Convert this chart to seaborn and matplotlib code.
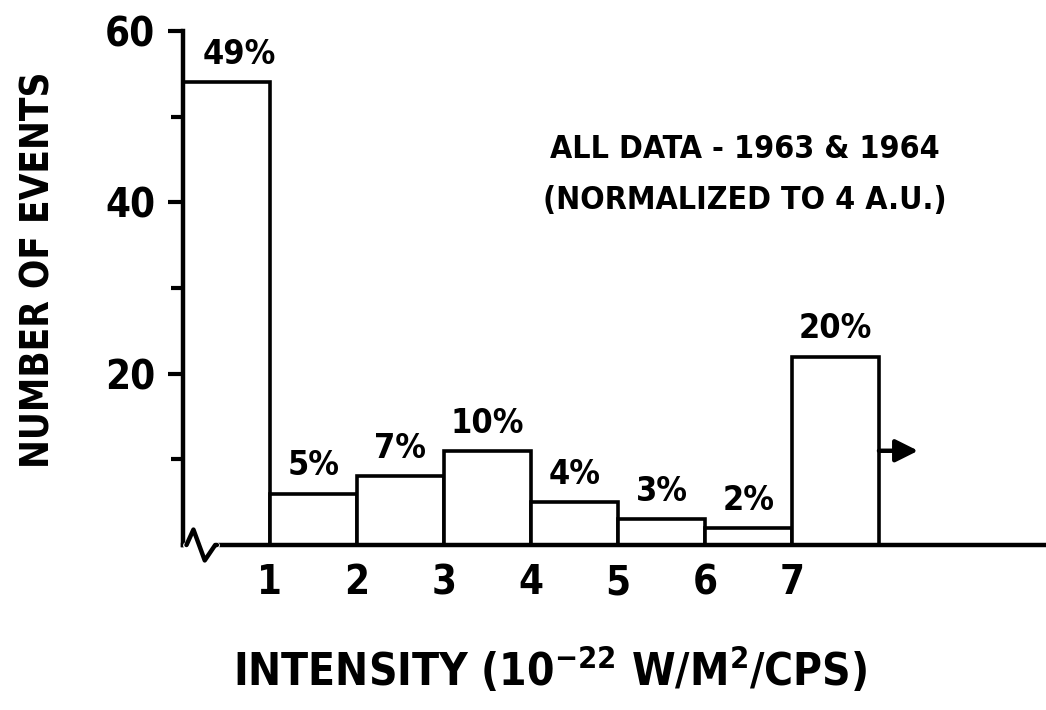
import numpy as np
import matplotlib
matplotlib.use("Agg")
import matplotlib.pyplot as plt
import seaborn as sns
from matplotlib import font_manager

# histogram of event intensities (counts)
bin_edges = [0, 1, 2, 3, 4, 5, 6, 7, 8]
counts = [54, 6, 8, 11, 5, 3, 2, 22]
percents = ["49%", "5%", "7%", "10%", "4%", "3%", "2%", "20%"]
x_ticks = [1, 2, 3, 4, 5, 6, 7]
y_major = [20, 40, 60]
y_minor = [10, 30, 50]

sns.set_style("white")
names = {f.name for f in font_manager.fontManager.ttflist}
if "Liberation Sans Narrow" in names:
    fam, k = ["Liberation Sans Narrow", "DejaVu Sans"], 1.0
elif "DejaVu Sans Condensed" in names:
    fam, k = ["DejaVu Sans Condensed", "DejaVu Sans"], 0.8
else:
    fam, k = ["DejaVu Sans"], 0.72
plt.rcParams["font.family"] = fam
plt.rcParams["font.weight"] = "bold"
plt.rcParams["font.stretch"] = "condensed"
plt.rcParams["mathtext.default"] = "regular"
for key in ["text.color", "axes.labelcolor", "xtick.color", "ytick.color"]:
    plt.rcParams[key] = "black"

fig = plt.figure(figsize=(10.46, 7.10), dpi=100)
ax = fig.add_axes([183 / 1046, 165 / 710, 1 - 183 / 1046, 514 / 710])

edges = np.array(bin_edges)
centers = (edges[:-1] + edges[1:]) / 2
sns.histplot(x=centers, weights=counts, bins=bin_edges, color="white",
             edgecolor="black", linewidth=2.6, alpha=1, ax=ax)

ax.set_xlim(0, 9.92)
ax.set_ylim(0, 60)
ax.set_xticks(x_ticks)
ax.set_xticklabels([str(t) for t in x_ticks])
ax.set_yticks(y_major)
ax.set_yticks(y_minor, minor=True)
ax.set_xlabel("")
ax.set_ylabel("")

for s in ["top", "right"]:
    ax.spines[s].set_visible(False)
for s in ["left", "bottom"]:
    ax.spines[s].set_linewidth(3.2)
    ax.spines[s].set_color("black")

ax.tick_params(axis="y", which="major", left=True, length=11, width=3, pad=9,
               labelsize=40 * k, color="black", labelcolor="black")
ax.tick_params(axis="y", which="minor", left=True, length=9, width=3, color="black")
ax.tick_params(axis="x", length=0, pad=13, labelsize=40 * k, labelcolor="black")

# percentage labels above bars
for i, (c, n, p) in enumerate(zip(centers, counts, percents)):
    dx = 0.15 if i == 0 else 0
    ax.text(c + dx, n + 1.3, p, ha="center", va="bottom",
            fontsize=34 * k, fontweight="bold")

# overflow arrow on last bin
ax.annotate("", xy=(edges[-1] + 0.45, counts[-1] / 2), xytext=(edges[-1], counts[-1] / 2),
            arrowprops=dict(arrowstyle="-|>", lw=3.2, color="black",
                            mutation_scale=34, shrinkA=0, shrinkB=0))

# axis break mark
ax.plot([0.04, 0.38], [0, 0], color="white", lw=5, clip_on=False, zorder=5)
ax.plot([0.04, 0.12, 0.25, 0.37, 0.39], [0, 1.8, -1.8, 0, 0], color="black",
        lw=3.2, clip_on=False, zorder=6)

fig.text(745 / 1046, 1 - 150 / 710, "ALL DATA - 1963 & 1964", ha="center", va="center",
         fontsize=32 * k, fontweight="bold")
fig.text(745 / 1046, 1 - 200 / 710, "(NORMALIZED TO 4 A.U.)", ha="center", va="center",
         fontsize=32 * k, fontweight="bold")

fig.text(38 / 1046, 1 - 270 / 710, "NUMBER OF EVENTS", rotation=90, ha="center",
         va="center", fontsize=38.5 * k, fontweight="bold")
fig.text(550 / 1046, 1 - 670 / 710, "INTENSITY (10$^{-22}$ W/M$^{2}$/CPS)", ha="center",
         va="center", fontsize=44 * k, fontweight="bold")

fig.savefig("out.png", dpi=100, facecolor="white")
